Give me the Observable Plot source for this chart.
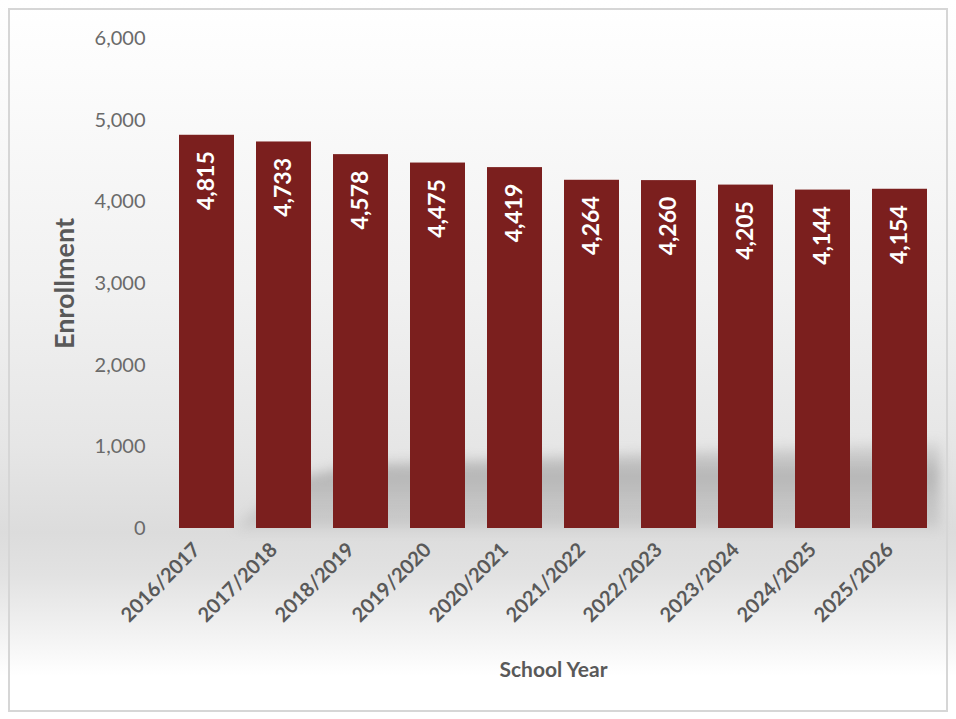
<!DOCTYPE html>
<html>
<head>
<meta charset="utf-8">
<script src="https://cdn.jsdelivr.net/npm/d3@7"></script>
<script src="https://cdn.jsdelivr.net/npm/@observablehq/plot@0.6"></script>
<style>
  html, body { margin: 0; padding: 0; background: #fff; }
  #wrap {
    position: relative; width: 956px; height: 719px; overflow: hidden;
    background: linear-gradient(to bottom, #ffffff 0%, #fbfbfb 12%, #f1f1f1 40%, #e6e6e6 62%, #dcdcdc 74%, #e2e2e2 80%, #f2f2f2 88%, #ffffff 94%, #ffffff 100%);
  }
  #frame {
    position: absolute; left: 8px; top: 8px; width: 940px; height: 704px;
    border: 2px solid #d6d6d6; box-sizing: border-box; pointer-events: none;
  }
  #shadowBlur { position: absolute; left: 0; top: 0; width: 956px; height: 719px; filter: blur(6px); }
  #shadow {
    position: absolute; left: 0; top: 0; width: 956px; height: 719px;
    background: linear-gradient(to bottom, rgba(140,140,140,0) 60%, rgba(145,145,145,0.55) 66%, rgba(155,155,155,0.45) 69%, rgba(170,170,170,0.35) 73%);
    clip-path: polygon(235px 528px, 290px 480px, 360px 464px, 940px 442px, 940px 528px);
  }
  #chart { position: absolute; left: 0; top: 0; }
</style>
</head>
<body>
<div id="wrap">
  <div id="shadowBlur"><div id="shadow"></div></div>
  <div id="frame"></div>
  <div id="chart"></div>
</div>
<script>
const years = ["2016/2017","2017/2018","2018/2019","2019/2020","2020/2021","2021/2022","2022/2023","2023/2024","2024/2025","2025/2026"];
const enrollment = [4815, 4733, 4578, 4475, 4419, 4264, 4260, 4205, 4144, 4154];
const yTicks = [0, 1000, 2000, 3000, 4000, 5000, 6000];

const data = years.map((y, i) => ({year: y, value: enrollment[i]}));
const fmt = d3.format(",");

const chart = Plot.plot({
  width: 956,
  height: 719,
  marginTop: 38,
  marginBottom: 191,
  marginLeft: 167,
  marginRight: 17,
  style: {background: "transparent", fontFamily: "Lato, 'Open Sans', sans-serif"},
  x: {domain: years, paddingInner: 0.29, paddingOuter: 0.145, label: null},
  y: {domain: [0, 6000], label: null},
  marks: [
    Plot.barY(data, {x: "year", y: "value", fill: "#7b1f1e"}),
    Plot.text(data, {x: "year", y: "value", text: d => fmt(d.value), rotate: -90, textAnchor: "end", dy: 16,
      fill: "white", fontWeight: "bold", fontSize: 23}),
    Plot.axisY({ticks: yTicks, tickFormat: fmt, tickSize: 0, tickPadding: 22, fontSize: 20, color: "#6a6a6a", label: null}),
    Plot.axisX({tickSize: 0, tickPadding: 18, dx: -10, tickRotate: -45, fontSize: 20, fontWeight: "bold", color: "#595959", label: null}),
    Plot.text(["Enrollment"], {frameAnchor: "left", textAnchor: "middle", dx: -102, rotate: -90, fontSize: 27, fontWeight: "bold", fill: "#595959"}),
    Plot.text(["School Year"], {frameAnchor: "bottom", dy: 148, fontSize: 21, fontWeight: "bold", fill: "#595959"})
  ]
});
document.getElementById("chart").appendChild(chart);
</script>
</body>
</html>
